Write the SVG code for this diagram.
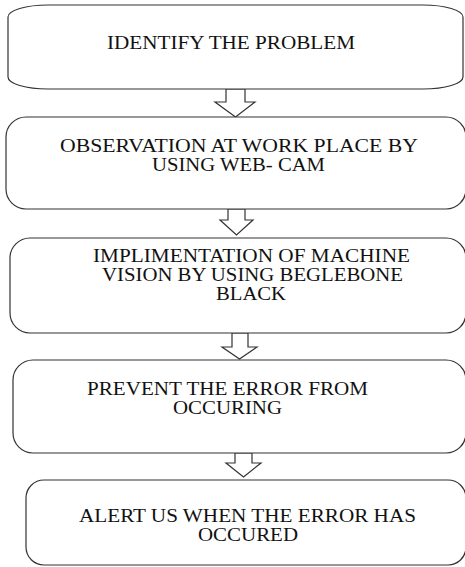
<svg xmlns="http://www.w3.org/2000/svg" width="465" height="567" viewBox="0 0 465 567">
<style>
.box{fill:#fff;stroke:#333;stroke-width:1.2}
.arr{fill:#fff;stroke:#333;stroke-width:1.2;stroke-linejoin:miter}
text{font-family:"Liberation Serif","Times New Roman",serif;font-size:19px;fill:#111}
</style>
<rect width="465" height="567" fill="#fff"/>
<g id="connectors">
<polygon class="arr" points="226,89 245,89 245,102 255,102 235.5,117 215,102 226,102"/>
<polygon class="arr" points="228,209 245,209 245,220 253,220 236.5,235 220,220 228,220"/>
<polygon class="arr" points="232,333 248,333 248,347 257,347 239.5,359 222,347 232,347"/>
<polygon class="arr" points="235,453 252,453 252,463 261,463 243.5,477 226,463 235,463"/>
</g>
<g id="n1">
<rect class="box" x="8" y="5" width="455" height="84" rx="40" ry="12"/>
<text x="107" y="49" textLength="248" lengthAdjust="spacingAndGlyphs">IDENTIFY THE PROBLEM</text>
</g>
<g id="n2">
<rect class="box" x="6" y="117" width="460" height="92" rx="20" ry="20"/>
<text x="60" y="152" textLength="358" lengthAdjust="spacingAndGlyphs">OBSERVATION AT WORK PLACE BY</text>
<text x="152" y="171" textLength="173" lengthAdjust="spacingAndGlyphs">USING WEB- CAM</text>
</g>
<g id="n3">
<rect class="box" x="10" y="238" width="456" height="95" rx="20" ry="20"/>
<text x="93" y="262" textLength="317" lengthAdjust="spacingAndGlyphs">IMPLIMENTATION OF MACHINE</text>
<text x="102" y="281" textLength="301" lengthAdjust="spacingAndGlyphs">VISION BY USING BEGLEBONE</text>
<text x="216" y="300" textLength="70" lengthAdjust="spacingAndGlyphs">BLACK</text>
</g>
<g id="n4">
<rect class="box" x="13" y="360" width="453" height="93" rx="20" ry="20"/>
<text x="87" y="395" textLength="281" lengthAdjust="spacingAndGlyphs">PREVENT THE ERROR FROM</text>
<text x="173" y="414" textLength="109" lengthAdjust="spacingAndGlyphs">OCCURING</text>
</g>
<g id="n5">
<rect class="box" x="26" y="480" width="440" height="85" rx="18" ry="18"/>
<text x="79" y="522" textLength="337" lengthAdjust="spacingAndGlyphs">ALERT US WHEN THE ERROR HAS</text>
<text x="198" y="541" textLength="100" lengthAdjust="spacingAndGlyphs">OCCURED</text>
</g>
</svg>
